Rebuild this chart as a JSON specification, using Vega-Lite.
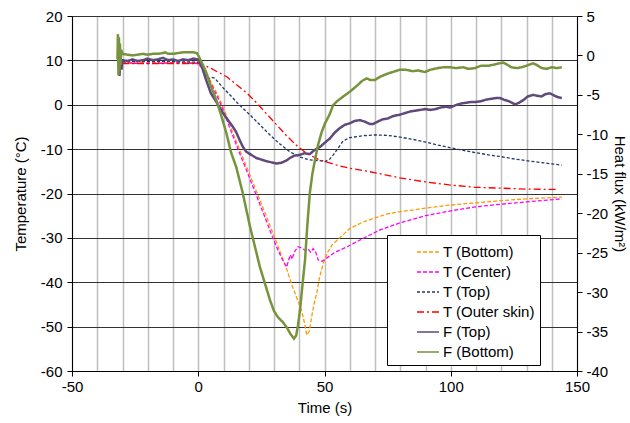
{
  "$schema": "https://vega.github.io/schema/vega-lite/v6.json",
  "width": 505,
  "height": 355,
  "autosize": {"type": "none"},
  "padding": {"left": 72, "top": 16, "right": 53, "bottom": 52},
  "config": {
    "font": "Liberation Sans",
    "view": {"stroke": null},
    "axis": {
      "labelFont": "Liberation Sans", "titleFont": "Liberation Sans",
      "labelFontSize": 15, "titleFontSize": 15, "titleFontWeight": "normal",
      "labelColor": "#000", "titleColor": "#000", "domainColor": "#000", "tickColor": "#000",
      "tickSize": 5, "domainWidth": 1, "tickWidth": 1, "labelFlush": false, "labelOverlap": false
    },
    "legend": {
      "orient": "none", "legendX": 315, "legendY": 219,
      "fillColor": "white", "strokeColor": "#000", "padding": 5,
      "symbolType": "stroke", "symbolSize": 484, "symbolOffset": 24,
      "labelFontSize": 15, "labelFont": "Liberation Sans", "labelColor": "#000",
      "rowPadding": 0, "labelOffset": 3, "labelLimit": 400,
      "labelExpr": "datum.label + '\u2007\u2007\u2007\u2007'"
    }
  },
  "datasets": {
    "temp": [
      {"s":"T (Bottom)","t":-30.2,"v":9.5},{"s":"T (Bottom)","t":-20,"v":9.4},{"s":"T (Bottom)","t":-10,"v":9.5},{"s":"T (Bottom)","t":-2,"v":9.5},{"s":"T (Bottom)","t":0,"v":9.4},{"s":"T (Bottom)","t":1,"v":9.0},{"s":"T (Bottom)","t":2,"v":8.2},{"s":"T (Bottom)","t":3.5,"v":6.8},{"s":"T (Bottom)","t":5,"v":5.2},{"s":"T (Bottom)","t":7,"v":3},{"s":"T (Bottom)","t":9,"v":0.6},{"s":"T (Bottom)","t":11,"v":-2.2},{"s":"T (Bottom)","t":13,"v":-5.3},{"s":"T (Bottom)","t":15,"v":-8.2},{"s":"T (Bottom)","t":17,"v":-11},{"s":"T (Bottom)","t":19,"v":-13.8},{"s":"T (Bottom)","t":21,"v":-16.6},{"s":"T (Bottom)","t":23,"v":-19.5},{"s":"T (Bottom)","t":25,"v":-22.3},{"s":"T (Bottom)","t":27,"v":-25.2},{"s":"T (Bottom)","t":29,"v":-28.1},{"s":"T (Bottom)","t":31,"v":-31},{"s":"T (Bottom)","t":33,"v":-34},{"s":"T (Bottom)","t":35,"v":-37},{"s":"T (Bottom)","t":37,"v":-40.5},{"s":"T (Bottom)","t":39,"v":-43.5},{"s":"T (Bottom)","t":41,"v":-46.5},{"s":"T (Bottom)","t":42,"v":-49},{"s":"T (Bottom)","t":43,"v":-51.9},{"s":"T (Bottom)","t":44,"v":-51},{"s":"T (Bottom)","t":45,"v":-47.5},{"s":"T (Bottom)","t":46,"v":-44.5},{"s":"T (Bottom)","t":47,"v":-42.3},{"s":"T (Bottom)","t":48,"v":-39},{"s":"T (Bottom)","t":49.5,"v":-35.8},{"s":"T (Bottom)","t":51,"v":-33.5},{"s":"T (Bottom)","t":53,"v":-31.6},{"s":"T (Bottom)","t":56,"v":-30},{"s":"T (Bottom)","t":60,"v":-27.9},{"s":"T (Bottom)","t":65,"v":-26.5},{"s":"T (Bottom)","t":70,"v":-25.5},{"s":"T (Bottom)","t":75,"v":-24.6},{"s":"T (Bottom)","t":80,"v":-24.1},{"s":"T (Bottom)","t":90,"v":-23.3},{"s":"T (Bottom)","t":100,"v":-22.6},{"s":"T (Bottom)","t":110,"v":-22.1},{"s":"T (Bottom)","t":120,"v":-21.6},{"s":"T (Bottom)","t":130,"v":-21.2},{"s":"T (Bottom)","t":144,"v":-20.8},
      {"s":"T (Center)","t":-30.2,"v":9.4},{"s":"T (Center)","t":-20,"v":9.3},{"s":"T (Center)","t":-10,"v":9.4},{"s":"T (Center)","t":0,"v":9.3},{"s":"T (Center)","t":1,"v":8.6},{"s":"T (Center)","t":2,"v":7.8},{"s":"T (Center)","t":3.5,"v":6.4},{"s":"T (Center)","t":5,"v":4.8},{"s":"T (Center)","t":7,"v":2.5},{"s":"T (Center)","t":9,"v":0},{"s":"T (Center)","t":11,"v":-2.9},{"s":"T (Center)","t":13,"v":-6},{"s":"T (Center)","t":15,"v":-8.9},{"s":"T (Center)","t":17,"v":-11.8},{"s":"T (Center)","t":19,"v":-14.6},{"s":"T (Center)","t":21,"v":-17.5},{"s":"T (Center)","t":23,"v":-20.4},{"s":"T (Center)","t":25,"v":-23.3},{"s":"T (Center)","t":27,"v":-26.2},{"s":"T (Center)","t":29,"v":-29.2},{"s":"T (Center)","t":31,"v":-32},{"s":"T (Center)","t":33,"v":-34.5},{"s":"T (Center)","t":35,"v":-36.6},{"s":"T (Center)","t":35.8,"v":-35},{"s":"T (Center)","t":36.5,"v":-33.8},{"s":"T (Center)","t":37.2,"v":-34.8},{"s":"T (Center)","t":38,"v":-33.2},{"s":"T (Center)","t":39.5,"v":-32},{"s":"T (Center)","t":41,"v":-32.3},{"s":"T (Center)","t":42.3,"v":-32.8},{"s":"T (Center)","t":43.5,"v":-32.5},{"s":"T (Center)","t":44.5,"v":-33.2},{"s":"T (Center)","t":45.5,"v":-32.4},{"s":"T (Center)","t":46.5,"v":-33.2},{"s":"T (Center)","t":47.5,"v":-35},{"s":"T (Center)","t":49,"v":-35.3},{"s":"T (Center)","t":51,"v":-34.5},{"s":"T (Center)","t":54,"v":-33.3},{"s":"T (Center)","t":59,"v":-32},{"s":"T (Center)","t":65,"v":-30.2},{"s":"T (Center)","t":72,"v":-28.2},{"s":"T (Center)","t":80,"v":-26.6},{"s":"T (Center)","t":90,"v":-25},{"s":"T (Center)","t":100,"v":-23.9},{"s":"T (Center)","t":110,"v":-23},{"s":"T (Center)","t":120,"v":-22.4},{"s":"T (Center)","t":130,"v":-21.9},{"s":"T (Center)","t":144,"v":-21.2},
      {"s":"T (Top)","t":-30.2,"v":9.7},{"s":"T (Top)","t":-10,"v":9.7},{"s":"T (Top)","t":0,"v":9.6},{"s":"T (Top)","t":1,"v":9.0},{"s":"T (Top)","t":2,"v":7.8},{"s":"T (Top)","t":3,"v":6.5},{"s":"T (Top)","t":4,"v":5.8},{"s":"T (Top)","t":5.2,"v":6.2},{"s":"T (Top)","t":6.5,"v":6.0},{"s":"T (Top)","t":8,"v":5.0},{"s":"T (Top)","t":10,"v":3.7},{"s":"T (Top)","t":12.6,"v":2.2},{"s":"T (Top)","t":16,"v":0.1},{"s":"T (Top)","t":20.5,"v":-2.3},{"s":"T (Top)","t":24,"v":-4.3},{"s":"T (Top)","t":28.4,"v":-6.8},{"s":"T (Top)","t":32,"v":-8.7},{"s":"T (Top)","t":36.3,"v":-10.6},{"s":"T (Top)","t":40.3,"v":-11.8},{"s":"T (Top)","t":44,"v":-12.4},{"s":"T (Top)","t":48,"v":-12.6},{"s":"T (Top)","t":50.2,"v":-12.8},{"s":"T (Top)","t":52,"v":-12.3},{"s":"T (Top)","t":53.5,"v":-11.3},{"s":"T (Top)","t":55.5,"v":-9.7},{"s":"T (Top)","t":57.3,"v":-8.2},{"s":"T (Top)","t":60,"v":-7.4},{"s":"T (Top)","t":65,"v":-7},{"s":"T (Top)","t":70,"v":-6.8},{"s":"T (Top)","t":75,"v":-6.9},{"s":"T (Top)","t":80,"v":-7.3},{"s":"T (Top)","t":85,"v":-7.8},{"s":"T (Top)","t":90,"v":-8.4},{"s":"T (Top)","t":95,"v":-9.1},{"s":"T (Top)","t":100,"v":-9.7},{"s":"T (Top)","t":105,"v":-10.3},{"s":"T (Top)","t":110,"v":-10.8},{"s":"T (Top)","t":115,"v":-11.3},{"s":"T (Top)","t":120,"v":-11.7},{"s":"T (Top)","t":125,"v":-12.2},{"s":"T (Top)","t":130,"v":-12.6},{"s":"T (Top)","t":137,"v":-13.1},{"s":"T (Top)","t":144,"v":-13.6},
      {"s":"T (Outer skin)","t":-30.2,"v":9.3},{"s":"T (Outer skin)","t":-10,"v":9.3},{"s":"T (Outer skin)","t":0,"v":9.3},{"s":"T (Outer skin)","t":2,"v":9},{"s":"T (Outer skin)","t":5,"v":8.2},{"s":"T (Outer skin)","t":8,"v":7.3},{"s":"T (Outer skin)","t":11.3,"v":6.3},{"s":"T (Outer skin)","t":15,"v":4.6},{"s":"T (Outer skin)","t":19.3,"v":2.6},{"s":"T (Outer skin)","t":23,"v":0.5},{"s":"T (Outer skin)","t":27,"v":-2},{"s":"T (Outer skin)","t":31,"v":-4.5},{"s":"T (Outer skin)","t":35,"v":-7},{"s":"T (Outer skin)","t":39,"v":-9.2},{"s":"T (Outer skin)","t":43,"v":-11},{"s":"T (Outer skin)","t":48,"v":-12.4},{"s":"T (Outer skin)","t":52,"v":-13.1},{"s":"T (Outer skin)","t":56,"v":-13.8},{"s":"T (Outer skin)","t":60,"v":-14.3},{"s":"T (Outer skin)","t":68,"v":-15.1},{"s":"T (Outer skin)","t":75,"v":-15.9},{"s":"T (Outer skin)","t":80,"v":-16.5},{"s":"T (Outer skin)","t":90,"v":-17.4},{"s":"T (Outer skin)","t":100,"v":-18.1},{"s":"T (Outer skin)","t":110,"v":-18.6},{"s":"T (Outer skin)","t":120,"v":-18.8},{"s":"T (Outer skin)","t":130,"v":-19},{"s":"T (Outer skin)","t":142.5,"v":-19.1}
    ],
    "flux": [
      {"s":"F (Top)","t":-31.5,"v":-0.5},{"s":"F (Top)","t":-31.2,"v":-2.6},{"s":"F (Top)","t":-30.8,"v":-0.3},{"s":"F (Top)","t":-30.4,"v":-1.8},{"s":"F (Top)","t":-30,"v":-0.6},{"s":"F (Top)","t":-28,"v":-0.7},{"s":"F (Top)","t":-26,"v":-0.5},{"s":"F (Top)","t":-24,"v":-0.7},{"s":"F (Top)","t":-22,"v":-0.6},{"s":"F (Top)","t":-20,"v":-0.4},{"s":"F (Top)","t":-18,"v":-0.6},{"s":"F (Top)","t":-16,"v":-0.5},{"s":"F (Top)","t":-14,"v":-0.3},{"s":"F (Top)","t":-12,"v":-0.6},{"s":"F (Top)","t":-10,"v":-0.5},{"s":"F (Top)","t":-8,"v":-0.7},{"s":"F (Top)","t":-6,"v":-0.5},{"s":"F (Top)","t":-4,"v":-0.6},{"s":"F (Top)","t":-2,"v":-0.4},{"s":"F (Top)","t":0,"v":-0.5},{"s":"F (Top)","t":1.5,"v":-1.5},{"s":"F (Top)","t":3,"v":-3},{"s":"F (Top)","t":5,"v":-4.8},{"s":"F (Top)","t":7,"v":-5.8},{"s":"F (Top)","t":8.5,"v":-6.6},{"s":"F (Top)","t":10,"v":-7.4},{"s":"F (Top)","t":12,"v":-8.3},{"s":"F (Top)","t":13.6,"v":-9},{"s":"F (Top)","t":15,"v":-9.7},{"s":"F (Top)","t":16.5,"v":-10.8},{"s":"F (Top)","t":17.7,"v":-11.6},{"s":"F (Top)","t":19,"v":-12.2},{"s":"F (Top)","t":21,"v":-12.6},{"s":"F (Top)","t":23,"v":-13},{"s":"F (Top)","t":25,"v":-13.2},{"s":"F (Top)","t":27,"v":-13.4},{"s":"F (Top)","t":29.6,"v":-13.6},{"s":"F (Top)","t":31,"v":-13.7},{"s":"F (Top)","t":33,"v":-13.6},{"s":"F (Top)","t":35,"v":-13.3},{"s":"F (Top)","t":36.3,"v":-13},{"s":"F (Top)","t":38,"v":-12.7},{"s":"F (Top)","t":40.3,"v":-12.6},{"s":"F (Top)","t":42,"v":-12.4},{"s":"F (Top)","t":44.2,"v":-12.5},{"s":"F (Top)","t":46,"v":-12},{"s":"F (Top)","t":48.2,"v":-11.6},{"s":"F (Top)","t":50,"v":-11.1},{"s":"F (Top)","t":52.2,"v":-10.5},{"s":"F (Top)","t":54,"v":-9.8},{"s":"F (Top)","t":56.1,"v":-9.2},{"s":"F (Top)","t":58,"v":-8.8},{"s":"F (Top)","t":60,"v":-8.6},{"s":"F (Top)","t":62,"v":-8.3},{"s":"F (Top)","t":64,"v":-8.2},{"s":"F (Top)","t":66,"v":-8.4},{"s":"F (Top)","t":68,"v":-8.7},{"s":"F (Top)","t":69.2,"v":-8.7},{"s":"F (Top)","t":71,"v":-8.4},{"s":"F (Top)","t":73,"v":-8.1},{"s":"F (Top)","t":75,"v":-8},{"s":"F (Top)","t":77,"v":-7.7},{"s":"F (Top)","t":79.9,"v":-7.5},{"s":"F (Top)","t":82,"v":-7.3},{"s":"F (Top)","t":84,"v":-7.1},{"s":"F (Top)","t":86,"v":-7},{"s":"F (Top)","t":88,"v":-6.9},{"s":"F (Top)","t":89.8,"v":-6.8},{"s":"F (Top)","t":92,"v":-6.9},{"s":"F (Top)","t":94,"v":-6.8},{"s":"F (Top)","t":96,"v":-6.6},{"s":"F (Top)","t":98,"v":-6.5},{"s":"F (Top)","t":99.7,"v":-6.6},{"s":"F (Top)","t":102,"v":-6.3},{"s":"F (Top)","t":104,"v":-6.1},{"s":"F (Top)","t":106,"v":-6},{"s":"F (Top)","t":108,"v":-5.9},{"s":"F (Top)","t":109.6,"v":-5.9},{"s":"F (Top)","t":112,"v":-5.8},{"s":"F (Top)","t":114,"v":-5.6},{"s":"F (Top)","t":116,"v":-5.5},{"s":"F (Top)","t":118,"v":-5.4},{"s":"F (Top)","t":119.5,"v":-5.4},{"s":"F (Top)","t":121,"v":-5.6},{"s":"F (Top)","t":123,"v":-5.8},{"s":"F (Top)","t":125.5,"v":-6.2},{"s":"F (Top)","t":127,"v":-6},{"s":"F (Top)","t":129,"v":-5.6},{"s":"F (Top)","t":130.5,"v":-5.2},{"s":"F (Top)","t":132.6,"v":-5},{"s":"F (Top)","t":134,"v":-5.1},{"s":"F (Top)","t":136,"v":-5.2},{"s":"F (Top)","t":137.5,"v":-4.9},{"s":"F (Top)","t":139.3,"v":-4.8},{"s":"F (Top)","t":141,"v":-5.1},{"s":"F (Top)","t":142.5,"v":-5.3},{"s":"F (Top)","t":144,"v":-5.4},
      {"s":"F (Bottom)","t":-32,"v":-0.5},{"s":"F (Bottom)","t":-31.8,"v":2.7},{"s":"F (Bottom)","t":-31.6,"v":-2.5},{"s":"F (Bottom)","t":-31.4,"v":2.3},{"s":"F (Bottom)","t":-31.2,"v":-2.0},{"s":"F (Bottom)","t":-31,"v":1.5},{"s":"F (Bottom)","t":-30.8,"v":-1.2},{"s":"F (Bottom)","t":-30.5,"v":0.7},{"s":"F (Bottom)","t":-30,"v":0.2},{"s":"F (Bottom)","t":-28,"v":0.1},{"s":"F (Bottom)","t":-26,"v":0.0},{"s":"F (Bottom)","t":-24,"v":0.1},{"s":"F (Bottom)","t":-22,"v":0.2},{"s":"F (Bottom)","t":-20,"v":0.1},{"s":"F (Bottom)","t":-18,"v":0.2},{"s":"F (Bottom)","t":-16,"v":0.2},{"s":"F (Bottom)","t":-14,"v":0.3},{"s":"F (Bottom)","t":-13,"v":0.4},{"s":"F (Bottom)","t":-12,"v":0.2},{"s":"F (Bottom)","t":-10,"v":0.2},{"s":"F (Bottom)","t":-8,"v":0.3},{"s":"F (Bottom)","t":-6,"v":0.4},{"s":"F (Bottom)","t":-4,"v":0.4},{"s":"F (Bottom)","t":-2,"v":0.4},{"s":"F (Bottom)","t":-0.5,"v":0.3},{"s":"F (Bottom)","t":0.5,"v":-0.3},{"s":"F (Bottom)","t":2,"v":-1.3},{"s":"F (Bottom)","t":3.2,"v":-2.2},{"s":"F (Bottom)","t":5,"v":-3.9},{"s":"F (Bottom)","t":7.1,"v":-5.6},{"s":"F (Bottom)","t":9,"v":-7.5},{"s":"F (Bottom)","t":11.1,"v":-9.8},{"s":"F (Bottom)","t":13,"v":-12.3},{"s":"F (Bottom)","t":15,"v":-14.1},{"s":"F (Bottom)","t":16.5,"v":-16},{"s":"F (Bottom)","t":17.6,"v":-17.4},{"s":"F (Bottom)","t":19,"v":-19.5},{"s":"F (Bottom)","t":20.5,"v":-21.7},{"s":"F (Bottom)","t":22.5,"v":-24.3},{"s":"F (Bottom)","t":24.4,"v":-26.8},{"s":"F (Bottom)","t":26.5,"v":-29},{"s":"F (Bottom)","t":28.4,"v":-31},{"s":"F (Bottom)","t":30,"v":-32.4},{"s":"F (Bottom)","t":31.6,"v":-33.2},{"s":"F (Bottom)","t":33.5,"v":-33.8},{"s":"F (Bottom)","t":35.1,"v":-34.5},{"s":"F (Bottom)","t":36.5,"v":-35.3},{"s":"F (Bottom)","t":37.9,"v":-35.9},{"s":"F (Bottom)","t":38.8,"v":-35.5},{"s":"F (Bottom)","t":39.5,"v":-34.2},{"s":"F (Bottom)","t":40.3,"v":-32.3},{"s":"F (Bottom)","t":41.3,"v":-29},{"s":"F (Bottom)","t":42.3,"v":-25.9},{"s":"F (Bottom)","t":43.2,"v":-21.5},{"s":"F (Bottom)","t":44.2,"v":-17.4},{"s":"F (Bottom)","t":45.2,"v":-15},{"s":"F (Bottom)","t":46.2,"v":-13.3},{"s":"F (Bottom)","t":47.4,"v":-11.4},{"s":"F (Bottom)","t":48.8,"v":-9.8},{"s":"F (Bottom)","t":50.2,"v":-8.6},{"s":"F (Bottom)","t":52,"v":-7.5},{"s":"F (Bottom)","t":53.4,"v":-6.3},{"s":"F (Bottom)","t":55,"v":-5.8},{"s":"F (Bottom)","t":57,"v":-5.3},{"s":"F (Bottom)","t":60,"v":-4.6},{"s":"F (Bottom)","t":63,"v":-3.8},{"s":"F (Bottom)","t":65,"v":-3.2},{"s":"F (Bottom)","t":66.7,"v":-2.9},{"s":"F (Bottom)","t":68,"v":-3.1},{"s":"F (Bottom)","t":70,"v":-3.1},{"s":"F (Bottom)","t":72,"v":-2.7},{"s":"F (Bottom)","t":75,"v":-2.3},{"s":"F (Bottom)","t":78,"v":-2},{"s":"F (Bottom)","t":79.9,"v":-1.8},{"s":"F (Bottom)","t":82,"v":-1.8},{"s":"F (Bottom)","t":85,"v":-2},{"s":"F (Bottom)","t":87,"v":-1.9},{"s":"F (Bottom)","t":89.8,"v":-2.1},{"s":"F (Bottom)","t":92,"v":-1.8},{"s":"F (Bottom)","t":95,"v":-1.6},{"s":"F (Bottom)","t":97,"v":-1.5},{"s":"F (Bottom)","t":99.7,"v":-1.5},{"s":"F (Bottom)","t":102,"v":-1.6},{"s":"F (Bottom)","t":105,"v":-1.5},{"s":"F (Bottom)","t":107,"v":-1.7},{"s":"F (Bottom)","t":109.6,"v":-1.6},{"s":"F (Bottom)","t":112,"v":-1.3},{"s":"F (Bottom)","t":115,"v":-1.3},{"s":"F (Bottom)","t":118,"v":-1.1},{"s":"F (Bottom)","t":120.7,"v":-0.9},{"s":"F (Bottom)","t":122,"v":-1.1},{"s":"F (Bottom)","t":124,"v":-1.5},{"s":"F (Bottom)","t":126.3,"v":-1.6},{"s":"F (Bottom)","t":128,"v":-1.5},{"s":"F (Bottom)","t":130,"v":-1.3},{"s":"F (Bottom)","t":132.6,"v":-1.0},{"s":"F (Bottom)","t":134,"v":-1.2},{"s":"F (Bottom)","t":136,"v":-1.6},{"s":"F (Bottom)","t":138,"v":-1.7},{"s":"F (Bottom)","t":140,"v":-1.5},{"s":"F (Bottom)","t":142,"v":-1.6},{"s":"F (Bottom)","t":144,"v":-1.5}
    ]
  },
  "encoding": {
    "x": {
      "field": "t", "type": "quantitative",
      "scale": {"domain": [-50, 150], "nice": false, "zero": false},
      "axis": {
        "title": "Time (s)",
        "values": [-50,-40,-30,-20,-10,0,10,20,30,40,50,60,70,80,90,100,110,120,130,140,150],
        "labelExpr": "datum.value % 50 === 0 ? replace(datum.label, '\u2212', '-') : ''",
        "tickOpacity": {"condition": {"test": "datum.value % 50 === 0", "value": 1}, "value": 0},
        "grid": true, "gridColor": "#BFBFBF", "gridWidth": 1.5,
        "labelPadding": 3, "titlePadding": 6
      }
    }
  },
  "layer": [
    {
      "data": {"name": "temp"},
      "mark": {"type": "line", "strokeWidth": 1.3},
      "encoding": {
        "y": {
          "field": "v", "type": "quantitative",
          "scale": {"domain": [-60, 20], "nice": false, "zero": false},
          "axis": {
            "orient": "left", "title": "Temperature (°C)",
            "values": [-60,-50,-40,-30,-20,-10,0,10,20],
            "labelExpr": "replace(datum.label, '\u2212', '-')",
            "grid": true, "gridColor": "#333333", "gridWidth": 1,
            "labelPadding": 5, "titlePadding": 12
          }
        },
        "color": {
          "field": "s", "type": "nominal", "title": null,
          "scale": {"domain": ["T (Bottom)","T (Center)","T (Top)","T (Outer skin)","F (Top)","F (Bottom)"],
                    "range": ["#FF9900","#FF00FF","#1F3864","#FF0000","#604A7B","#77933C"]}
        },
        "strokeDash": {
          "field": "s", "type": "nominal", "title": null,
          "scale": {"domain": ["T (Bottom)","T (Center)","T (Top)","T (Outer skin)","F (Top)","F (Bottom)"],
                    "range": [[4,2],[4,2],[3,2],[7,3,2,3],[1,0],[1,0]]}
        }
      }
    },
    {
      "data": {"name": "flux"},
      "mark": {"type": "line", "strokeWidth": 2.5},
      "encoding": {
        "y": {
          "field": "v", "type": "quantitative",
          "scale": {"domain": [-40, 5], "nice": false, "zero": false},
          "axis": {
            "orient": "right", "title": "Heat flux (kW/m²)",
            "values": [5,0,-5,-10,-15,-20,-25,-30,-35,-40],
            "labelExpr": "replace(datum.label, '\u2212', '-')",
            "grid": false, "labelPadding": 4, "titlePadding": 4
          }
        },
        "color": {
          "field": "s", "type": "nominal", "title": null,
          "scale": {"domain": ["T (Bottom)","T (Center)","T (Top)","T (Outer skin)","F (Top)","F (Bottom)"],
                    "range": ["#FF9900","#FF00FF","#1F3864","#FF0000","#604A7B","#77933C"]}
        },
        "strokeDash": {
          "field": "s", "type": "nominal", "title": null,
          "scale": {"domain": ["T (Bottom)","T (Center)","T (Top)","T (Outer skin)","F (Top)","F (Bottom)"],
                    "range": [[4,2],[4,2],[3,2],[7,3,2,3],[1,0],[1,0]]}
        }
      }
    }
  ],
  "resolve": {"scale": {"y": "independent"}}
}
